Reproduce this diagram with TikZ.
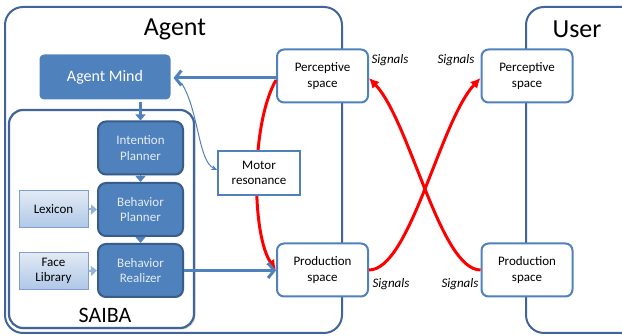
\documentclass[tikz,border=0pt]{standalone}
\usepackage{fontspec}
\setmainfont{Carlito}
\usetikzlibrary{arrows.meta,shadows}
\definecolor{boxblue}{HTML}{4F81BD}
\definecolor{darkblue}{HTML}{385D8A}
\definecolor{frameblue}{HTML}{41659A}
\definecolor{paleblue}{HTML}{E2EAF5}
\definecolor{lightblue}{HTML}{AFC7E7}
\definecolor{lineblue}{HTML}{7F9FCF}
\definecolor{tipblue}{HTML}{95B3D7}
\definecolor{textblue}{HTML}{E4ECF7}
\begin{document}
\begin{tikzpicture}[x=1pt,y=1pt,
  small/.style={font=\fontsize{13}{15.5}\selectfont},
  frame/.style={draw=frameblue,line width=2pt,rounded corners=18pt},
  mindbox/.style={fill=boxblue,draw=white,line width=3pt,rounded corners=6pt,text=white,
    font=\fontsize{16}{18}\selectfont,minimum width=134pt,minimum height=48pt,
    drop shadow={opacity=0.35,shadow xshift=1pt,shadow yshift=-1pt}},
  saibabox/.style={draw=frameblue,fill=white,line width=2.2pt,rounded corners=14pt,
    minimum width=185pt,minimum height=218pt,
    drop shadow={opacity=0.3,shadow xshift=1.5pt,shadow yshift=-1.5pt}},
  modbox/.style={small,fill=boxblue,draw=darkblue,line width=2pt,rounded corners=8pt,
    text=textblue,align=center,minimum width=85pt,minimum height=53pt,
    drop shadow={opacity=0.3,shadow xshift=1pt,shadow yshift=-1pt}},
  libbox/.style={small,top color=paleblue,bottom color=lightblue,draw=lineblue,line width=1pt,
    align=center,minimum width=69pt,minimum height=37pt},
  spacebox/.style={small,fill=white,draw=boxblue,line width=2pt,rounded corners=7pt,
    align=center,minimum width=91pt,minimum height=53pt},
  motorbox/.style={small,fill=white,draw=boxblue,line width=1.5pt,align=center,
    minimum width=82pt,minimum height=44pt},
  signal/.style={small,font=\fontsize{13}{15.5}\selectfont\itshape},
  bigarrow/.style={draw=boxblue,line width=3pt,-{Straight Barb[length=6pt,width=15pt]}},
  redarrow/.style={draw=red,line width=3pt,-{Latex[length=10pt,width=10pt]}},
  ]
\useasboundingbox (0,0) rectangle (622,336);

% outer frames
\draw[frame] (5,3) rectangle (342,329);
\begin{scope}
\clip (0,0) rectangle (622,336);
\draw[frame] (526,3) rectangle (660,329);
\end{scope}
\node[font=\fontsize{26}{30}\selectfont] (agent) at (175,307) {Agent};
\node[font=\fontsize{26}{30}\selectfont] (user) at (577,307) {User};

% agent side
\node[saibabox] (saiba) at (101.5,117) {};
\node[font=\fontsize{22}{26}\selectfont] (saibalabel) at (105,21) {SAIBA};
\node[mindbox] (am) at (105,259) {Agent Mind};
\node[modbox] (ip) at (140.5,188) {Intention\\Planner};
\node[modbox] (bp) at (140.5,126.5) {Behavior\\Planner};
\node[modbox] (br) at (140.5,65.5) {Behavior\\Realizer};
\node[libbox] (lx) at (53.5,126.5) {Lexicon};
\node[libbox] (fl) at (53.5,65) {Face\\Library};

\node[spacebox] (pa) at (322.5,260) {Perceptive\\space};
\node[spacebox] (pra) at (322.5,66) {Production\\space};

% motor resonance loop, drawn under the box
\draw[redarrow] ([yshift=-4pt]pa.west) .. controls (250,210) and (252,100) .. (pra.west);
\node[motorbox] (mr) at (259,163) {Motor\\resonance};

% user side
\node[spacebox] (pu) at (527,260) {Perceptive\\space};
\node[spacebox] (pru) at (527,66) {Production\\space};

% arrows inside the agent
\draw[draw=boxblue,line width=2.5pt,-{Triangle[length=6pt,width=10pt]}] (ip.north |- am.south) -- (ip.north);
\draw[draw=boxblue,line width=1pt,-{Triangle[length=6pt,width=10pt]}] (ip.south) -- (bp.north);
\draw[draw=boxblue,line width=1pt,-{Triangle[length=6pt,width=10pt]}] (bp.south) -- (br.north);
\draw[draw=tipblue,line width=2pt,-{Triangle[length=6pt,width=10pt]}] (lx.east) -- (bp.west);
\draw[draw=tipblue,line width=2pt,-{Triangle[length=6pt,width=10pt]}] (fl.east) -- (br.west);
\draw[bigarrow] (pa.west |- 0,258) -- (am.east |- 0,258);
\draw[bigarrow] (br.east) -- (br.east -| pra.west);
\draw[draw=boxblue,line width=1pt,-{Stealth[length=6pt,width=5pt]}]
  ([xshift=8pt,yshift=-6pt]am.east) .. controls (199,225) and (198,175) .. ([yshift=3pt]mr.west);

% signals between agent and user
\draw[redarrow] (pra.east) .. controls (410,66) and (440,215) .. ([yshift=-2pt]pu.west);
\draw[redarrow] (pru.west) .. controls (440,66) and (410,215) .. ([yshift=-2pt]pa.east);
\node[signal] (s1) at (390,276) {Signals};
\node[signal] (s2) at (456,276) {Signals};
\node[signal] (s3) at (391,52) {Signals};
\node[signal] (s4) at (460,52) {Signals};
\end{tikzpicture}
\end{document}
